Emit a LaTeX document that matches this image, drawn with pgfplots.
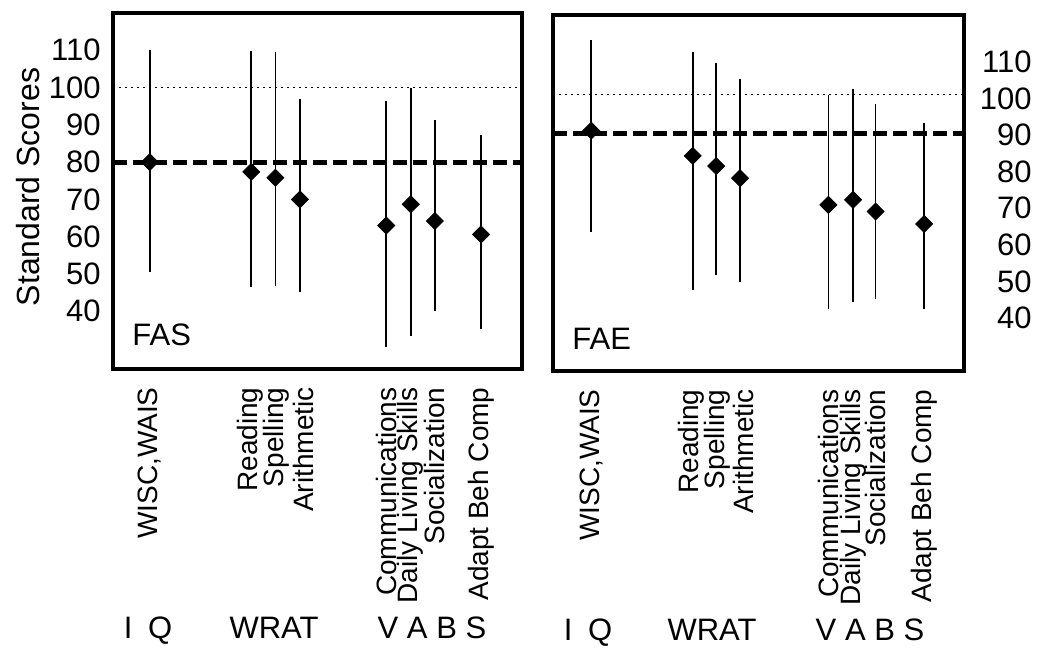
\documentclass[border=0pt]{standalone}
\usepackage{fontspec}
\setmainfont{Liberation Sans}
\usepackage{pgfplots}
\usepackage{pgfplotstable}
\pgfplotsset{compat=1.18}

\pgfplotstableread{
x    y     lo    hi
9.0  80.0  50.5  110.0
33.8 77.4  46.6  109.7
39.7 75.8  46.8  109.5
45.7 70.0  45.2  96.8
66.8 63.0  30.3  96.3
72.8 68.7  33.3  99.9
78.7 64.2  40.1  91.4
90.0 60.6  35.1  87.4
}\fasdata

\pgfplotstableread{
x    y     lo    hi
9.3  91.2  63.4  115.9
34.0 84.3  47.7  112.7
39.7 81.5  51.8  109.8
45.5 78.2  49.7  105.2
67.0 70.9  42.5  100.9
73.0 72.3  44.3  102.7
78.5 69.1  45.3  98.6
90.3 65.7  42.5  93.2
}\faedata

\newcommand{\bigf}{\fontsize{15.5}{18}\selectfont}
\newcommand{\smf}{\fontsize{14}{16}\selectfont}

\pgfplotsset{
  panel/.style={
    scale only axis,
    anchor=south west,
    axis line style={line width=1.6pt},
    xmin=0, xmax=100,
    major tick length=0pt,
    ytick={40,50,...,110},
    /pgf/number format/assume math mode=true,
    yticklabel style={font=\bigf, inner sep=0pt},
    xticklabel style={font=\smf, rotate=90, anchor=east, inner sep=0pt},
    xticklabel shift=9pt,
    xticklabels={{WISC,WAIS}, Reading, Spelling, Arithmetic, Communications, Daily Living Skills, Socialization, Adapt Beh Comp},
  },
  meanbars/.style={
    black, only marks, mark=square*, mark size=3pt, mark options={rotate=45},
    error bars/.cd, y dir=both, y explicit, error mark=none,
    error bar style={line width=0.8pt, black},
  },
}

\begin{document}
\begin{tikzpicture}
\useasboundingbox (0,0) rectangle (519pt,325pt);

% Left panel (FAS)
\begin{axis}[panel,
  at={(56.5pt,140.5pt)}, width=204.5pt, height=178pt,
  ymin=24.5, ymax=120,
  xtick={9.0,33.5,40.0,46.5,66.8,72.8,78.7,90.0},
  yticklabel style={anchor=east, xshift=-6pt},
]
\addplot[black, line width=0.5pt, dash pattern=on 1pt off 2pt] coordinates {(0,100) (100,100)};
\addplot[black, line width=2.4pt, dash pattern=on 7pt off 3pt] coordinates {(0,80) (100,80)};
\addplot[meanbars] table[x=x, y=y, y error plus expr=\thisrow{hi}-\thisrow{y}, y error minus expr=\thisrow{y}-\thisrow{lo}] {\fasdata};
\end{axis}

% Right panel (FAE)
\begin{axis}[panel,
  at={(276.5pt,139.5pt)}, width=205.5pt, height=178pt,
  ymin=25.5, ymax=122.8,
  xtick={9.3,33.7,40.0,46.3,67.0,73.0,78.5,90.3},
  yticklabel pos=right,
  yticklabel style={anchor=east, xshift=34pt},
]
\addplot[black, line width=0.5pt, dash pattern=on 1pt off 2pt] coordinates {(0,101) (100,101)};
\addplot[black, line width=2.4pt, dash pattern=on 7pt off 3pt] coordinates {(0,90.5) (100,90.5)};
\addplot[meanbars] table[x=x, y=y, y error plus expr=\thisrow{hi}-\thisrow{y}, y error minus expr=\thisrow{y}-\thisrow{lo}] {\faedata};
\end{axis}

\node[rotate=90, font=\fontsize{16}{19}\selectfont] at (14pt,231.5pt) {Standard Scores};
\node[anchor=west, font=\bigf, inner sep=0pt] at (66pt,157.5pt) {FAS};
\node[anchor=west, font=\bigf, inner sep=0pt] at (286pt,155.5pt) {FAE};

\node[font=\bigf, anchor=base, inner sep=0pt] at (74pt,6pt) {I\hspace{0.5em}Q};
\node[font=\bigf, anchor=base, inner sep=0pt] at (137pt,6pt) {WRAT};
\node[font=\bigf, anchor=base, inner sep=0pt] at (216pt,6pt) {V A B S};
\node[font=\bigf, anchor=base, inner sep=0pt] at (294pt,5pt) {I\hspace{0.5em}Q};
\node[font=\bigf, anchor=base, inner sep=0pt] at (356pt,5pt) {WRAT};
\node[font=\bigf, anchor=base, inner sep=0pt] at (435pt,5pt) {V A B S};
\end{tikzpicture}
\end{document}
